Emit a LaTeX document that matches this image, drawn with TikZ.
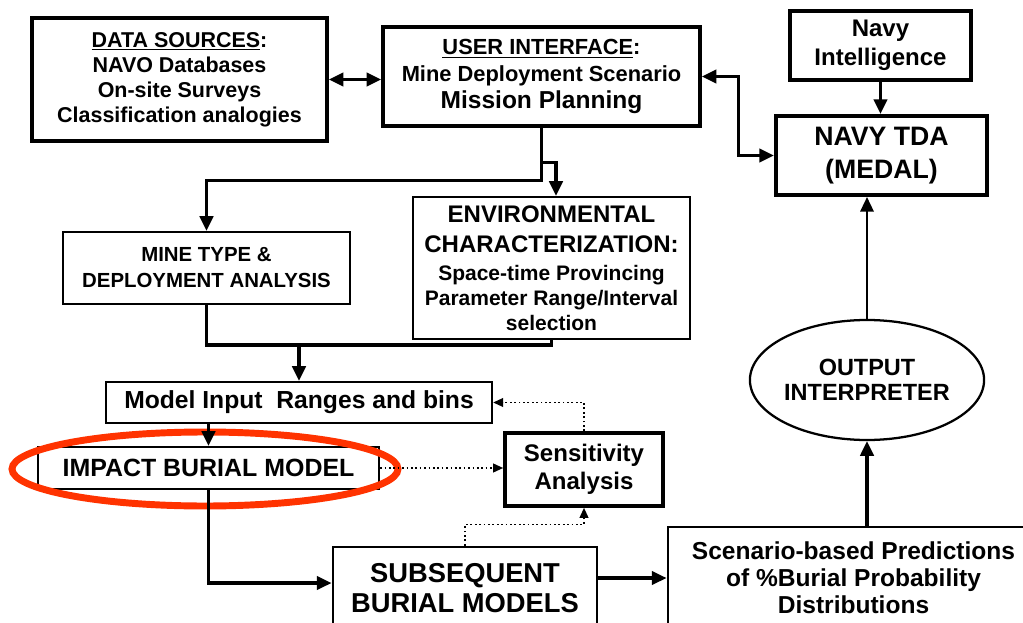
\documentclass[tikz,border=0pt]{standalone}
\usepackage{fontspec}
\setmainfont{Liberation Sans}
\usetikzlibrary{arrows.meta,shapes.geometric,calc}
\definecolor{hl}{RGB}{255,51,0}
\newcommand\fsz[2]{\fontsize{#1pt}{#2pt}\selectfont}
\begin{document}
\begin{tikzpicture}[x=0.75pt,y=-0.75pt,
  box/.style={draw, rectangle, inner sep=0pt, align=center, font=\bfseries, line width=2.7pt},
  thinbox/.style={box, line width=1.7pt},
  conn/.style={line width=2.4pt, -{Triangle[length=11pt,width=10pt]}},
  dconn/.style={line width=2.4pt, {Triangle[length=11pt,width=10pt]}-{Triangle[length=11pt,width=10pt]}},
  dotconn/.style={line width=1.3pt, dotted, -{Triangle[length=7.5pt,width=6.5pt]}}
]
\useasboundingbox (0,0) rectangle (1023,623);
\clip (0,0) rectangle (1023,623);

\node[box, minimum width=221.25pt, minimum height=92.25pt, font=\bfseries\fsz{16.1}{18.75}] (data) at (179.5,79.5)
  {\underline{DATA SOURCES}:\\NAVO Databases\\On-site Surveys\\Classification analogies};
\node[box, minimum width=237.75pt, minimum height=74.25pt, font=\bfseries\fsz{16.4}{20}] (ui) at (541.5,76.5)
  {\underline{USER INTERFACE}:\\Mine Deployment Scenario\\{\fsz{18.4}{19}Mission Planning}};
\node[box, minimum width=135.75pt, minimum height=51.75pt, font=\bfseries\fsz{18}{21.75}] (intel) at (880.5,45.5)
  {Navy\\Intelligence};
\node[box, line width=3pt, minimum width=158.25pt, minimum height=59.25pt, font=\bfseries\fsz{20}{24.75}] (tda) at (881.5,155.5)
  {NAVY TDA\\(MEDAL)};
\node[thinbox, minimum width=215.25pt, minimum height=54pt, font=\bfseries\fsz{15.3}{19.5}] (mine) at (206.5,268)
  {MINE TYPE \&\\DEPLOYMENT ANALYSIS};
\node[thinbox, minimum width=207.75pt, minimum height=106.5pt, font=\bfseries\fsz{18}{18.75}] (env) at (551.5,268)
  {ENVIRONMENTAL\\[3.75pt]CHARACTERIZATION:\\[2.25pt]{\fsz{15.75}{18.75}Space-time Provincing}\\{\fsz{15.75}{18.75}Parameter Range/Interval}\\{\fsz{15.75}{18.75}selection}};
\node[thinbox, minimum width=289.5pt, minimum height=30.75pt, font=\bfseries\fsz{18.5}{20}] (model) at (299,402.5)
  {Model Input\ \ Ranges and bins};
\node[thinbox, minimum width=255.75pt, minimum height=31.5pt, font=\bfseries\fsz{18.7}{20}] (impact) at (208.5,468)
  {IMPACT BURIAL MODEL};
\node[box, minimum width=118.5pt, minimum height=54.75pt, font=\bfseries\fsz{18}{21}] (sens) at (584,469.5)
  {Sensitivity\\Analysis};
\node[box, line width=2.2pt, minimum width=198pt, minimum height=62.25pt, font=\bfseries\fsz{20.5}{22.5}] (sub) at (465,588.5)
  {SUBSEQUENT\\BURIAL MODELS};
\node[box, line width=2.2pt, minimum width=278.25pt, minimum height=76.5pt, font=\bfseries\fsz{18.4}{20.25}] (scen) at (853.5,578)
  {Scenario-based Predictions\\of \%Burial Probability\\Distributions};
\node[draw, ellipse, inner sep=0pt, line width=1.7pt, minimum width=142.5pt, minimum height=90pt, align=center, font=\bfseries\fsz{17.6}{18.75}] (out) at (867,380)
  {OUTPUT\\INTERPRETER};

% highlight ellipse
\draw[hl, line width=5.2pt] (205,469) ellipse [x radius=193, y radius=37];

% connectors
\draw[dconn] (data.east) -- (data.east -| ui.west);
\draw[dconn] (ui.east) -- ++(37,0) |- (tda.west);
\draw[conn] (intel.south) -- (intel.south |- tda.north);
\draw[conn] (ui.south) -- ++(0,53) -| (mine.north);
\coordinate (br) at ($(ui.south)+(0,35)$);
\draw[conn] (br) -| ($(env.north)+(4.5,0)$);
\coordinate (join) at (299,345);
\draw[line width=2.4pt] (mine.south) |- (join);
\draw[line width=2.4pt] (env.south) |- (join);
\draw[conn] (join) -- (model.north);
\draw[conn] (model.south -| impact.north) -- (impact.north);
\draw[conn] (impact.south) |- (sub.west |- 0,583);
\draw[conn] (scen.west -| sub.east) -- (scen.west);
\draw[conn] (scen.north -| out.south) -- (out.south);
\draw[line width=1.7pt, -{Triangle[length=11pt,width=10pt]}] (out.north) -- (out.north |- tda.south);
\draw[dotconn] (impact.east) -- (impact.east -| sens.west);
\draw[dotconn] (sens.north) |- (model.east);
\draw[dotconn] (sub.north) -- ++(0,-21) -| (sens.south);
\end{tikzpicture}
\end{document}
